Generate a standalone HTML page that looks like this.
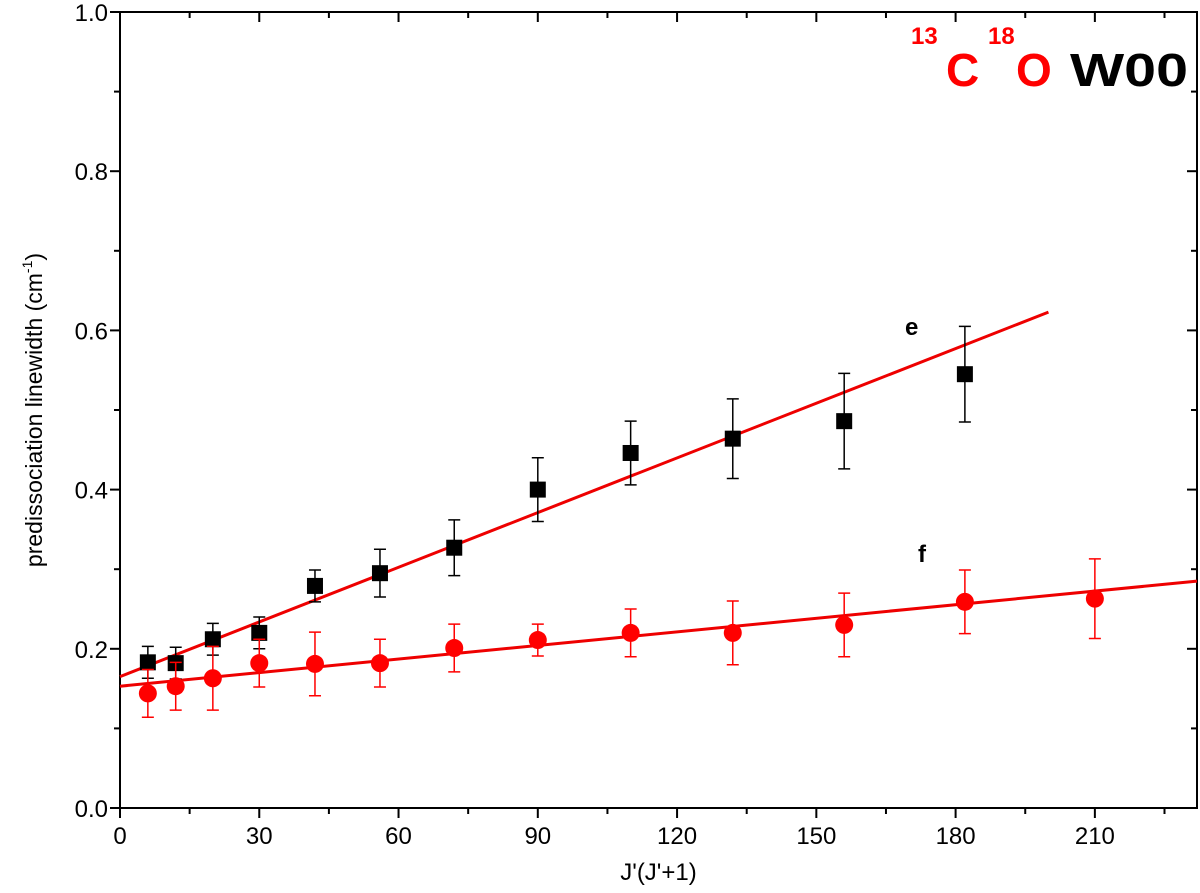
<!DOCTYPE html>
<html><head><meta charset="utf-8"><style>body{margin:0;background:#fff}svg{display:block}text{font-family:"Liberation Sans",Arial,sans-serif}</style></head>
<body>
<svg id="c" width="1200" height="893"></svg>
<script>
const jE=[6,12,20,30,42,56,72,90,110,132,156,182];
const vE=[0.183,0.182,0.212,0.220,0.279,0.295,0.327,0.400,0.446,0.464,0.486,0.545];
const errE=[0.02,0.02,0.02,0.02,0.02,0.03,0.035,0.04,0.04,0.05,0.06,0.06];
const jF=[6,12,20,30,42,56,72,90,110,132,156,182,210];
const vF=[0.144,0.153,0.163,0.182,0.181,0.182,0.201,0.211,0.220,0.220,0.230,0.259,0.263];
const errF=[0.03,0.03,0.04,0.03,0.04,0.03,0.03,0.02,0.03,0.04,0.04,0.04,0.05];
const fitE=[[0,0.165],[200,0.623]];
const fitF=[[0,0.153],[232,0.285]];
const xTicks=[0,30,60,90,120,150,180,210];
const yTicks=[0.0,0.2,0.4,0.6,0.8,1.0];
const L=120,R=1197,T=12,B=808,XMAX=232;
const X=v=>L+v/XMAX*(R-L), Y=v=>B-v*(B-T);
const s=document.getElementById('c'),NS='http://www.w3.org/2000/svg';
function mk(t,a,p){const e=document.createElementNS(NS,t);for(const k in a)e.setAttribute(k,a[k]);(p||s).appendChild(e);return e;}
let e;
e=mk('rect',{x:L,y:T,width:R-L,height:B-T,fill:'none',stroke:'#000','stroke-width':2});


for(let v=0;v<=XMAX;v+=15){const maj=v%30==0;
e=mk('line',{x1:X(v),x2:X(v),y1:B,y2:B+(maj?10:6),stroke:'#000','stroke-width':2});


e=mk('line',{x1:X(v),x2:X(v),y1:T,y2:T+(maj?10:6),stroke:'#000','stroke-width':2});

}
xTicks.forEach(v=>{e=mk('text',{x:X(v),y:B+36,'text-anchor':'middle','font-size':24});e.textContent=v;

});
for(let i=0;i<=10;i++){const v=i/10,maj=i%2==0;
e=mk('line',{x1:L-(maj?10:6),x2:L,y1:Y(v),y2:Y(v),stroke:'#000','stroke-width':2});


e=mk('line',{x1:R-(maj?10:6),x2:R,y1:Y(v),y2:Y(v),stroke:'#000','stroke-width':2});

}
yTicks.forEach(v=>{e=mk('text',{x:L-12,y:Y(v)+9,'text-anchor':'end','font-size':24});e.textContent=v.toFixed(1);

});
e=mk('text',{x:(L+R)/2,y:880,'text-anchor':'middle','font-size':24});e.textContent="J'(J'+1)";


e=mk('text',{x:0,y:0,'text-anchor':'middle','font-size':23,transform:'translate(42,410) rotate(-90)'});
e.innerHTML='predissociation linewidth (cm<tspan dy="-10" font-size="14">-1</tspan><tspan dy="10">)</tspan>';


function line(f,c,n){e=mk('line',{x1:X(f[0][0]),y1:Y(f[0][1]),x2:X(f[1][0]),y2:Y(f[1][1]),stroke:c,'stroke-width':3});

}
line(fitE,'#e00','fit-line-e');line(fitF,'#e00','fit-line-f');
function series(js,vs,es,c,sq,n){js.forEach((j,i)=>{const x=X(j);
e=mk('path',{d:`M${x},${Y(vs[i]+es[i])}V${Y(vs[i]-es[i])}M${x-6},${Y(vs[i]+es[i])}h12M${x-6},${Y(vs[i]-es[i])}h12`,stroke:c,'stroke-width':1.5,fill:'none'});


e=sq?mk('rect',{x:x-8,y:Y(vs[i])-8,width:16,height:16,fill:c}):mk('circle',{cx:x,cy:Y(vs[i]),r:9,fill:c});

});}
series(jE,vE,errE,'#000',true,'series-e');
series(jF,vF,errF,'#f00',false,'series-f');
e=mk('text',{x:905,y:335,'font-size':24,'font-weight':'bold'});e.textContent='e';


e=mk('text',{x:918,y:562,'font-size':24,'font-weight':'bold'});e.textContent='f';


const tt=[['13',911,44,24,'#f00',0],['C',946,86,46,'#f00',0],['18',988,44,24,'#f00',0],['O',1016,86,46,'#f00',0],['W00',1070,86,46,'#000',118]];
tt.forEach(t=>{const a={x:t[1],y:t[2],'font-size':t[3],'font-weight':'bold',fill:t[4]};if(t[5]){a.textLength=t[5];a.lengthAdjust='spacingAndGlyphs';}
e=mk('text',a);e.textContent=t[0];

});
</script>
</body></html>
